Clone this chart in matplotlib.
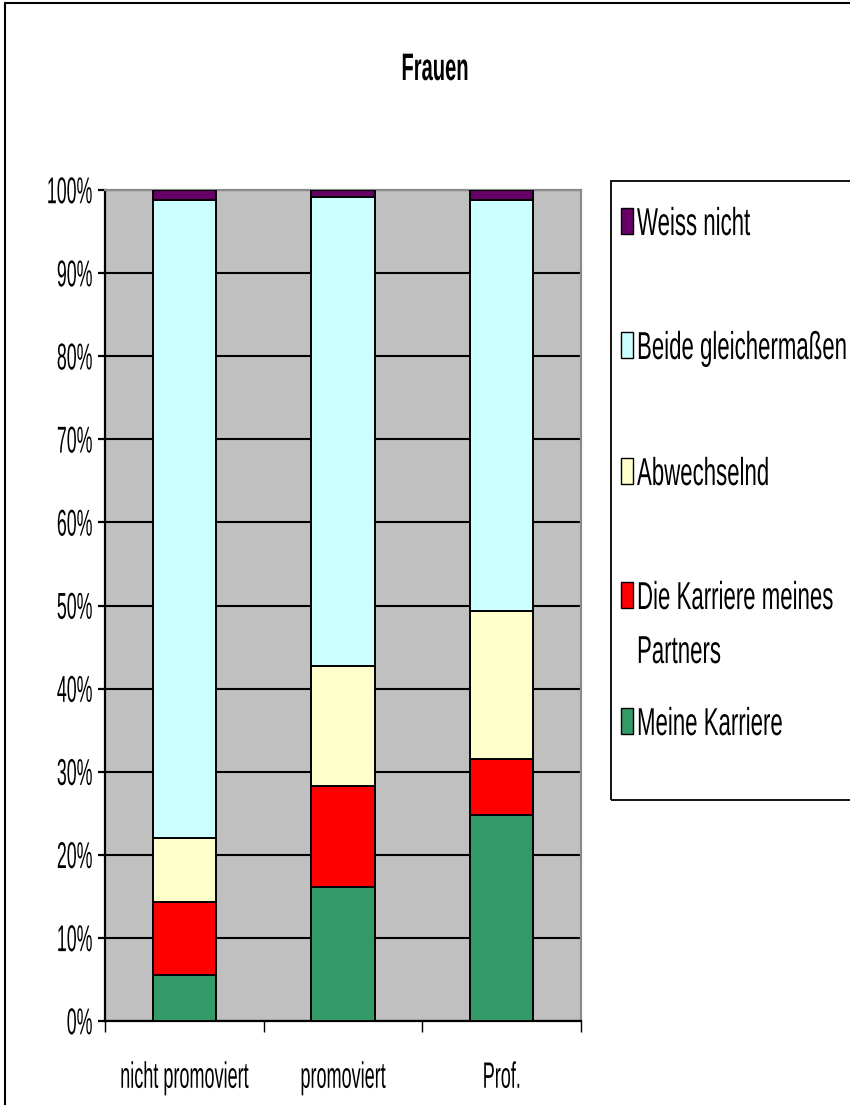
import matplotlib
matplotlib.use("Agg")
import matplotlib.pyplot as plt
import numpy as np
from matplotlib.patches import Rectangle
from matplotlib.patheffects import AbstractPathEffect
from matplotlib.transforms import Affine2D
from matplotlib.ticker import FuncFormatter

# ---------------- data ----------------
categories = ["nicht promoviert", "promoviert", "Prof."]
series_names = ["Meine Karriere", "Die Karriere meines\nPartners", "Abwechselnd",
                "Beide gleichermaßen", "Weiss nicht"]
meine_karriere = [5.5, 16.1, 24.8]
karriere_partner = [8.8, 12.2, 6.7]
abwechselnd = [7.7, 14.4, 17.8]
beide = [76.8, 56.5, 49.5]
weiss_nicht = [1.2, 0.8, 1.2]
y_ticks = [0, 10, 20, 30, 40, 50, 60, 70, 80, 90, 100]
title = "Frauen"

series_values = [meine_karriere, karriere_partner, abwechselnd, beide, weiss_nicht]
colors = ["#339966", "#FF0000", "#FFFFCC", "#CCFFFF", "#660066"]

plt.rcParams["font.family"] = ["Liberation Sans", "DejaVu Sans"]


class Stretch(AbstractPathEffect):
    """Vertically stretch glyph outlines (tall condensed look of the original)."""

    def __init__(self, sy, anchor="baseline"):
        super().__init__()
        self.sy = sy
        self.anchor = anchor

    def draw_path(self, renderer, gc, tpath, affine, rgbFace=None):
        ext = tpath.get_extents()
        if self.anchor == "center":
            c = (ext.y0 + ext.y1) / 2.0
        elif self.anchor == "top":
            c = ext.y1
        else:
            c = 0.0
        t = Affine2D().translate(0, -c).scale(1, self.sy).translate(0, c) + affine
        renderer.draw_path(gc, tpath, t, rgbFace)


W, H = 850, 1105
fig = plt.figure(figsize=(W / 100, H / 100), dpi=100)
fig.patch.set_facecolor("white")


def fx(px):
    return px / W


def fy(py):
    return 1 - py / H


ax = fig.add_axes([fx(105), fy(1021), (581 - 105) / W, (1021 - 190) / H])
ax.set_facecolor("#C0C0C0")

x = np.arange(len(categories))
totals = np.sum(np.array(series_values, dtype=float), axis=0)
bottom = np.zeros(len(categories))
for name, vals, col in zip(series_names, series_values, colors):
    v = np.array(vals, dtype=float) / totals * 100
    ax.bar(x, v, 0.4, bottom=bottom, color=col, edgecolor="black",
           linewidth=1.4, zorder=3, label=name)
    bottom += v

ax.set_xlim(-0.5, len(categories) - 0.5)
ax.set_ylim(0, 100)
ax.set_yticks(y_ticks)
ax.yaxis.set_major_formatter(FuncFormatter(lambda v, p: f"{v:.0f}%"))
ax.set_axisbelow(True)
ax.grid(axis="y", color="black", linewidth=1.5)
ax.grid(axis="x", visible=False)

for side in ["left", "bottom"]:
    ax.spines[side].set_color("black")
    ax.spines[side].set_linewidth(1.6)
for side in ["top", "right"]:
    ax.spines[side].set_color("#8a8a8a")
    ax.spines[side].set_linewidth(1.6)

ax.set_xticks(x)
ax.set_xticklabels(categories)
ax.set_xticks(np.arange(len(categories) + 1) - 0.5, minor=True)
ax.tick_params(axis="x", which="major", length=0, pad=29, labelsize=13.0)
ax.tick_params(axis="x", which="minor", length=8, width=1.0, direction="out",
               color="black")
ax.tick_params(axis="y", which="major", length=5, width=1.6, direction="out",
               pad=4, labelsize=12.8, color="black")

for lbl in ax.get_yticklabels():
    lbl.set_path_effects([Stretch(2.1, "center")])
for lbl in ax.get_xticklabels():
    lbl.set_path_effects([Stretch(2.03, "top")])

# title
fig.text(fx(435), fy(80), title, ha="center", va="baseline", fontsize=14.5,
         fontweight="bold", path_effects=[Stretch(1.9, "baseline")])

# legend (drawn box, entries top to bottom in reverse stacking order)
fig.add_artist(Rectangle((fx(611), fy(800)), 1.0, (800 - 181) / H,
                         transform=fig.transFigure, fill=False,
                         edgecolor="black", linewidth=1.3))
baselines = [235, 359, 485, 609, 735]
for name, col, base in zip(series_names[::-1], colors[::-1], baselines):
    for i, line in enumerate(name.split("\n")):
        fig.text(fx(637), fy(base + i * 54), line, ha="left", va="baseline",
                 fontsize=16, path_effects=[Stretch(1.75, "baseline")])
    fig.add_artist(Rectangle((fx(621), fy(base - 1)), 12 / W, 26 / H,
                             transform=fig.transFigure, facecolor=col,
                             edgecolor="black", linewidth=1.0))

# outer chart border (left / top visible)
fig.add_artist(Rectangle((fx(5), -0.1), 1.2, 1.1 - 3 / H,
                         transform=fig.transFigure, fill=False,
                         edgecolor="black", linewidth=1.5))

fig.savefig("out.png", dpi=100)
